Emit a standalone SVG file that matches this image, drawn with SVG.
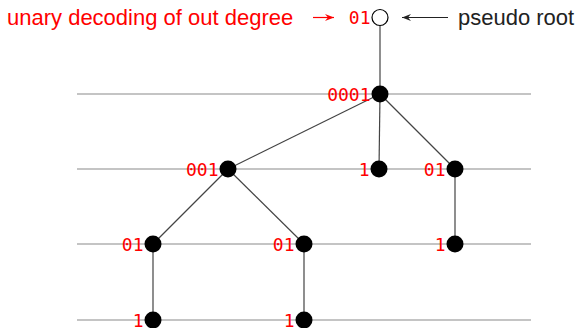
<svg xmlns="http://www.w3.org/2000/svg" width="579" height="328" viewBox="0 0 579 328">
  <defs>
    <marker id="arrRed" markerWidth="10" markerHeight="8" refX="9" refY="4" orient="auto" markerUnits="userSpaceOnUse">
      <path d="M0,0.5 L9,4 L0,7.5 L3,4 Z" fill="#ff0000"/>
    </marker>
    <marker id="arrBlk" markerWidth="10" markerHeight="8" refX="9" refY="4" orient="auto" markerUnits="userSpaceOnUse">
      <path d="M0,0.5 L9,4 L0,7.5 L3,4 Z" fill="#222"/>
    </marker>
  </defs>
  <style>
    .level { stroke: #8a8a8a; stroke-width: 1.2; }
    .edge { stroke: #444; stroke-width: 1.2; fill: none; }
    .node { fill: #000; }
    .code { font-family: "DejaVu Sans Mono", "Liberation Mono", monospace; font-size: 18px; fill: #ff0000; text-anchor: end; }
    .note { font-family: "Liberation Sans", Arial, sans-serif; font-size: 22px; }
  </style>
  <rect width="579" height="328" fill="#fff"/>

  <!-- depth levels -->
  <g id="levels">
    <line class="level" x1="77" y1="94" x2="531" y2="94"/>
    <line class="level" x1="77" y1="169" x2="531" y2="169"/>
    <line class="level" x1="77" y1="244" x2="531" y2="244"/>
    <line class="level" x1="77" y1="320" x2="531" y2="320"/>
  </g>

  <!-- tree edges -->
  <g id="connectors">
    <line class="edge" x1="380" y1="26" x2="380" y2="94"/>
    <line class="edge" x1="380" y1="94" x2="228" y2="169"/>
    <line class="edge" x1="380" y1="94" x2="379" y2="169"/>
    <line class="edge" x1="380" y1="94" x2="455" y2="169"/>
    <line class="edge" x1="228" y1="169" x2="153" y2="244"/>
    <line class="edge" x1="228" y1="169" x2="304" y2="244"/>
    <line class="edge" x1="455" y1="169" x2="455" y2="244"/>
    <line class="edge" x1="153" y1="244" x2="153" y2="320"/>
    <line class="edge" x1="304" y1="244" x2="304" y2="320"/>
  </g>

  <!-- pseudo root -->
  <g id="root">
    <circle cx="380" cy="17.5" r="8" fill="#fff" stroke="#000" stroke-width="1.2"/>
    <text class="code" x="370.5" y="24">01</text>
  </g>

  <g id="n1"><circle class="node" cx="380" cy="94" r="8.5"/><text class="code" x="370.5" y="100.5">0001</text></g>
  <g id="n2"><circle class="node" cx="228" cy="169" r="8.5"/><text class="code" x="218.5" y="175.5">001</text></g>
  <g id="n3"><circle class="node" cx="379" cy="169" r="8.5"/><text class="code" x="369.5" y="175.5">1</text></g>
  <g id="n4"><circle class="node" cx="455" cy="169" r="8.5"/><text class="code" x="445.5" y="175.5">01</text></g>
  <g id="n5"><circle class="node" cx="153" cy="244" r="8.5"/><text class="code" x="143.5" y="250.5">01</text></g>
  <g id="n6"><circle class="node" cx="304" cy="244" r="8.5"/><text class="code" x="294.5" y="250.5">01</text></g>
  <g id="n7"><circle class="node" cx="455" cy="244" r="8.5"/><text class="code" x="445.5" y="250.5">1</text></g>
  <g id="n8"><circle class="node" cx="153" cy="320" r="8.5"/><text class="code" x="143.5" y="326.5">1</text></g>
  <g id="n9"><circle class="node" cx="304" cy="320" r="8.5"/><text class="code" x="294.5" y="326.5">1</text></g>

  <!-- annotations -->
  <g id="annotations">
    <text class="note" x="7" y="25" fill="#ff0000">unary decoding of out degree</text>
    <line x1="313" y1="17.5" x2="334" y2="17.5" stroke="#ff0000" stroke-width="1.2" marker-end="url(#arrRed)"/>
    <line x1="448" y1="17.5" x2="402" y2="17.5" stroke="#222" stroke-width="1.2" marker-end="url(#arrBlk)"/>
    <text class="note" x="458" y="25" fill="#222">pseudo root</text>
  </g>
</svg>
